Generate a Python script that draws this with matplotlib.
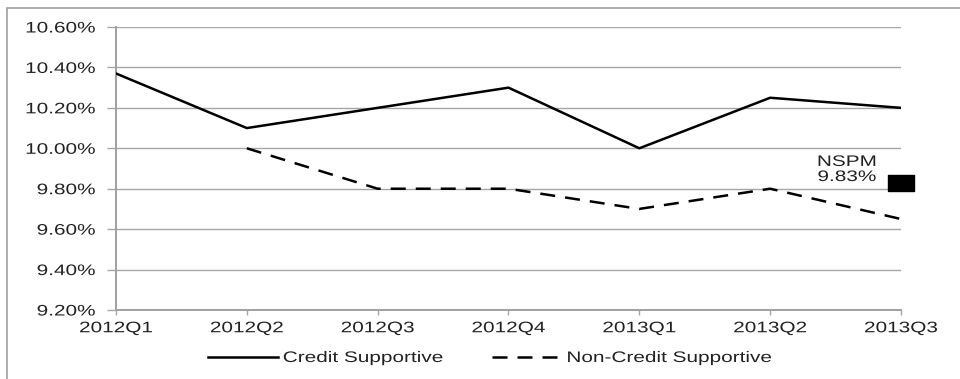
import matplotlib
matplotlib.use("Agg")
import matplotlib.pyplot as plt
from matplotlib.patches import Rectangle
from matplotlib.patheffects import AbstractPathEffect
from matplotlib.transforms import Affine2D
import numpy as np

quarters = ["2012Q1", "2012Q2", "2012Q3", "2012Q4", "2013Q1", "2013Q2", "2013Q3"]
credit_supportive = [10.37, 10.10, 10.20, 10.30, 10.00, 10.25, 10.20]
non_credit_supportive = [np.nan, 10.00, 9.80, 9.80, 9.70, 9.80, 9.65]
nspm_value = 9.83
yticks = [9.2, 9.4, 9.6, 9.8, 10.0, 10.2, 10.4, 10.6]


class Stretch(AbstractPathEffect):
    # widen glyphs horizontally, the source image is stretched sideways
    def __init__(self, sx, anchor='center'):
        super().__init__()
        self.sx = sx
        self.anchor = anchor

    def draw_path(self, renderer, gc, tpath, affine, rgbFace=None):
        ext = tpath.get_extents()
        x0 = {'left': ext.x0, 'right': ext.x1}.get(self.anchor, (ext.x0 + ext.x1) / 2)
        t = Affine2D().translate(-x0, 0).scale(self.sx, 1).translate(x0, 0) + affine
        renderer.draw_path(gc, tpath, t, rgbFace)


plt.rcParams['font.family'] = ['Liberation Sans', 'DejaVu Sans']
txt = '#222222'
grid_c = '#a6a6a6'
SX = 1.36

fig = plt.figure(figsize=(9.6, 3.79), dpi=100)
ax = fig.add_axes([116/960, 1-310/379, (901-116)/960, (310-27)/379])

# outer chart frame (cut off at right and bottom like the source)
fig.patches.append(Rectangle((7/960, -0.1), 1.2, 1 - 8/379 + 0.1, transform=fig.transFigure,
                             fill=False, edgecolor='#a0a0a0', lw=1.2))

x = np.arange(len(quarters))
ax.plot(x, credit_supportive, color='black', lw=1.8, label='Credit Supportive', zorder=3)
ax.plot(x, non_credit_supportive, color='black', lw=1.8, ls=(0, (6, 4)),
        label='Non-Credit Supportive', zorder=3)

# NSPM marker
box = [(-1, -0.6), (1, -0.6), (1, 0.6), (-1, 0.6), (-1, -0.6)]
ax.plot([x[-1]], [nspm_value], ls='none', marker=box, markersize=19,
        color='black', clip_on=False, zorder=4)
ax.annotate(f"NSPM\n{nspm_value:.2f}%", xy=(x[-1], nspm_value), xytext=(-39, -1),
            textcoords='offset points', ha='center', va='bottom', multialignment='center',
            fontsize=11, color=txt, linespacing=1.1,
            path_effects=[Stretch(SX, 'center')])

ax.set_xlim(0, len(quarters) - 1)
ax.set_ylim(9.2, 10.6)
ax.set_yticks(yticks)
ax.set_yticklabels([f"{v:.2f}%" for v in yticks])
ax.set_xticks(x)
ax.set_xticklabels(quarters)
ax.grid(axis='y', color=grid_c, lw=1.0)
ax.set_axisbelow(True)

for s in ['top', 'right']:
    ax.spines[s].set_visible(False)
for s in ['left', 'bottom']:
    ax.spines[s].set_color('#a0a0a0')
    ax.spines[s].set_linewidth(1.4)

ax.tick_params(axis='y', length=6.5, color=grid_c, width=1.0, labelsize=11,
               labelcolor=txt, pad=8.5)
ax.tick_params(axis='x', length=3.6, color=grid_c, width=1.0, labelsize=11,
               labelcolor=txt, pad=4.5)
for lab in ax.get_yticklabels():
    lab.set_path_effects([Stretch(SX, 'right')])
for lab in ax.get_xticklabels():
    lab.set_path_effects([Stretch(SX, 'center')])

leg = fig.legend(loc='center left', bbox_to_anchor=(208/960, 1 - 358/379), ncol=2,
                 frameon=False, borderpad=0, borderaxespad=0, fontsize=11,
                 handlelength=4.58, handletextpad=0.33, columnspacing=5.96,
                 labelcolor=txt)
for t in leg.get_texts():
    t.set_path_effects([Stretch(SX, 'left')])

fig.savefig("out.png", dpi=100)
